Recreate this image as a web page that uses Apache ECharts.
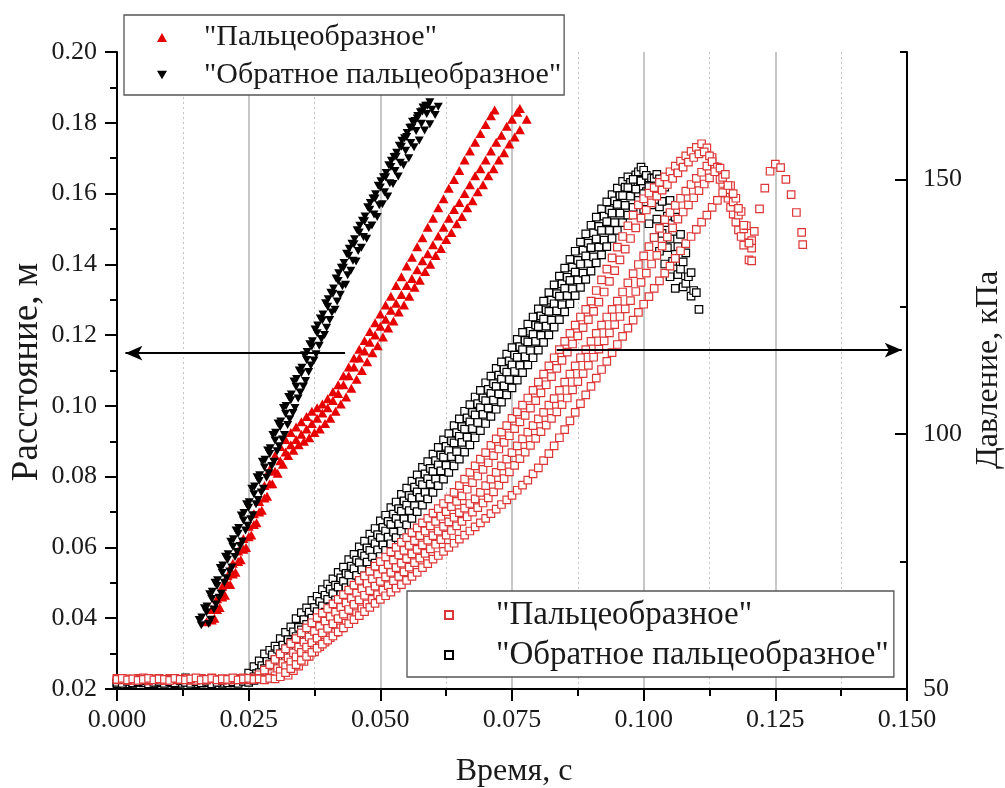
<!DOCTYPE html>
<html><head><meta charset="utf-8">
<script src="https://cdn.jsdelivr.net/npm/echarts@6/dist/echarts.min.js"></script>
<style>html,body{margin:0;padding:0;background:#fff}#c{width:1005px;height:788px}</style>
</head><body><div id="c"></div>
<script>
const FONT = '"Liberation Serif", "Times New Roman", serif';

// axis settings (values)
const xRange = [0, 0.15], xStep = 0.025;
const yLeftRange = [0.02, 0.20], yLeftStep = 0.02;
const yRightRange = [50, 175];
const yRightLabels = [50, 100, 150];
const yRightMinor = [75, 125, 175];

const legendText = {
  triF: '"Пальцеобразное"',
  triR: '"Обратное пальцеобразное"',
  sqF: '"Пальцеобразное"',
  sqR: '"Обратное пальцеобразное"'
};
const axisTitles = { x: 'Время, с', yl: 'Расстояние, м', yr: 'Давление, кПа' };

// arrows: [fromX, toX, y]
const arrowLeft = [0.0433, 0.0016, 0.1149];
const arrowRight = [0.0835, 0.1490, 116.5];

// ---- distance, "Пальцеобразное" (red triangles), 3 runs ----
const triFinger1 = [[0.0170,0.0390],[0.0180,0.0425],[0.0190,0.0455],[0.0200,0.0490],[0.0210,0.0520],[0.0220,0.0555],[0.0230,0.0590],[0.0240,0.0625],[0.0250,0.0660],[0.0260,0.0695],[0.0270,0.0730],[0.0280,0.0775],[0.0290,0.0820],[0.0300,0.0860],[0.0310,0.0885],[0.0320,0.0905],[0.0330,0.0925],[0.0340,0.0940],[0.0350,0.0955],[0.0360,0.0970],[0.0370,0.0985],[0.0380,0.0995],[0.0390,0.1005],[0.0400,0.1020],[0.0410,0.1040],[0.0420,0.1060],[0.0430,0.1085],[0.0440,0.1110],[0.0450,0.1135],[0.0460,0.1160],[0.0470,0.1185],[0.0480,0.1210],[0.0490,0.1235],[0.0500,0.1260],[0.0510,0.1285],[0.0520,0.1310],[0.0530,0.1340],[0.0540,0.1365],[0.0550,0.1395],[0.0560,0.1420],[0.0570,0.1450],[0.0580,0.1475],[0.0590,0.1505],[0.0600,0.1530],[0.0610,0.1560],[0.0620,0.1585],[0.0630,0.1615],[0.0640,0.1640],[0.0650,0.1665],[0.0660,0.1695],[0.0670,0.1720],[0.0680,0.1745],[0.0690,0.1770],[0.0700,0.1795],[0.0710,0.1820],[0.0717,0.1836]];
const triFinger2 = [[0.0180,0.0395],[0.0190,0.0425],[0.0200,0.0460],[0.0210,0.0495],[0.0220,0.0525],[0.0230,0.0560],[0.0240,0.0595],[0.0250,0.0630],[0.0260,0.0665],[0.0270,0.0700],[0.0280,0.0740],[0.0290,0.0780],[0.0300,0.0815],[0.0310,0.0845],[0.0320,0.0870],[0.0330,0.0890],[0.0340,0.0905],[0.0350,0.0920],[0.0360,0.0935],[0.0370,0.0950],[0.0380,0.0965],[0.0390,0.0980],[0.0400,0.0995],[0.0410,0.1015],[0.0420,0.1035],[0.0430,0.1060],[0.0440,0.1085],[0.0450,0.1110],[0.0460,0.1135],[0.0470,0.1155],[0.0480,0.1180],[0.0490,0.1200],[0.0500,0.1225],[0.0510,0.1245],[0.0520,0.1270],[0.0530,0.1290],[0.0540,0.1315],[0.0550,0.1340],[0.0560,0.1360],[0.0570,0.1385],[0.0580,0.1410],[0.0590,0.1430],[0.0600,0.1455],[0.0610,0.1480],[0.0620,0.1505],[0.0630,0.1530],[0.0640,0.1555],[0.0650,0.1575],[0.0660,0.1600],[0.0670,0.1625],[0.0680,0.1650],[0.0690,0.1670],[0.0700,0.1695],[0.0710,0.1720],[0.0720,0.1745],[0.0730,0.1765],[0.0740,0.1790],[0.0750,0.1810],[0.0760,0.1830],[0.0765,0.1840]];
const triFinger3 = [[0.0185,0.0400],[0.0195,0.0430],[0.0205,0.0465],[0.0215,0.0495],[0.0225,0.0530],[0.0235,0.0565],[0.0245,0.0600],[0.0255,0.0635],[0.0265,0.0670],[0.0275,0.0705],[0.0285,0.0745],[0.0295,0.0780],[0.0305,0.0810],[0.0315,0.0835],[0.0325,0.0860],[0.0335,0.0875],[0.0345,0.0890],[0.0355,0.0900],[0.0365,0.0910],[0.0375,0.0925],[0.0385,0.0935],[0.0395,0.0950],[0.0405,0.0965],[0.0415,0.0985],[0.0425,0.1005],[0.0435,0.1025],[0.0445,0.1050],[0.0455,0.1075],[0.0465,0.1100],[0.0475,0.1125],[0.0485,0.1150],[0.0495,0.1170],[0.0505,0.1195],[0.0515,0.1220],[0.0525,0.1240],[0.0535,0.1265],[0.0545,0.1285],[0.0555,0.1310],[0.0565,0.1335],[0.0575,0.1355],[0.0585,0.1380],[0.0595,0.1400],[0.0605,0.1425],[0.0615,0.1445],[0.0625,0.1470],[0.0635,0.1490],[0.0645,0.1515],[0.0655,0.1535],[0.0665,0.1560],[0.0675,0.1580],[0.0685,0.1605],[0.0695,0.1625],[0.0705,0.1650],[0.0715,0.1670],[0.0725,0.1695],[0.0735,0.1715],[0.0745,0.1740],[0.0755,0.1760],[0.0765,0.1780],[0.0778,0.1810]];

// ---- distance, "Обратное пальцеобразное" (black triangles), 5 runs ----
const triRev1 = [[0.016,0.0380],[0.017,0.0417],[0.018,0.0454],[0.019,0.0491],[0.020,0.0528],[0.021,0.0565],[0.022,0.0602],[0.023,0.0639],[0.024,0.0676],[0.025,0.0712],[0.026,0.0750],[0.027,0.0788],[0.028,0.0826],[0.029,0.0864],[0.030,0.0902],[0.031,0.0940],[0.032,0.0978],[0.033,0.1016],[0.034,0.1054],[0.035,0.1092],[0.036,0.1130],[0.037,0.1168],[0.038,0.1205],[0.039,0.1242],[0.040,0.1280],[0.041,0.1317],[0.042,0.1353],[0.043,0.1390],[0.044,0.1424],[0.045,0.1457],[0.046,0.1490],[0.047,0.1522],[0.048,0.1554],[0.049,0.1586],[0.050,0.1617],[0.051,0.1646],[0.052,0.1675],[0.053,0.1704],[0.054,0.1732],[0.055,0.1760],[0.056,0.1787],[0.057,0.1812],[0.058,0.1832],[0.059,0.1848]];
const triRev2 = [[0.0174,0.0384],[0.0184,0.0425],[0.0194,0.0458],[0.0204,0.0500],[0.0214,0.0532],[0.0224,0.0573],[0.0234,0.0604],[0.0244,0.0648],[0.0254,0.0680],[0.0264,0.0722],[0.0274,0.0755],[0.0284,0.0797],[0.0294,0.0830],[0.0304,0.0872],[0.0314,0.0905],[0.0324,0.0946],[0.0334,0.0980],[0.0344,0.1021],[0.0354,0.1055],[0.0364,0.1096],[0.0374,0.1128],[0.0384,0.1170],[0.0394,0.1200],[0.0404,0.1243],[0.0414,0.1272],[0.0424,0.1314],[0.0434,0.1342],[0.0444,0.1382],[0.0454,0.1408],[0.0464,0.1447],[0.0474,0.1472],[0.0484,0.1510],[0.0494,0.1534],[0.0504,0.1570],[0.0514,0.1592],[0.0524,0.1627],[0.0534,0.1648],[0.0544,0.1680],[0.0554,0.1700],[0.0564,0.1731],[0.0574,0.1750],[0.0584,0.1778],[0.0594,0.1796],[0.0604,0.1822],[0.0610,0.1845]];
const triRev3 = [[0.0156,0.0395],[0.0166,0.0428],[0.0176,0.0468],[0.0186,0.0500],[0.0196,0.0542],[0.0206,0.0574],[0.0216,0.0616],[0.0226,0.0648],[0.0236,0.0690],[0.0246,0.0722],[0.0256,0.0766],[0.0266,0.0798],[0.0276,0.0842],[0.0286,0.0874],[0.0296,0.0918],[0.0306,0.0950],[0.0316,0.0994],[0.0326,0.1025],[0.0336,0.1069],[0.0346,0.1100],[0.0356,0.1143],[0.0366,0.1174],[0.0376,0.1216],[0.0386,0.1247],[0.0396,0.1290],[0.0406,0.1320],[0.0416,0.1360],[0.0426,0.1390],[0.0436,0.1430],[0.0446,0.1458],[0.0456,0.1496],[0.0466,0.1523],[0.0476,0.1561],[0.0486,0.1586],[0.0496,0.1622],[0.0506,0.1646],[0.0516,0.1680],[0.0526,0.1703],[0.0536,0.1735],[0.0546,0.1756],[0.0556,0.1786],[0.0566,0.1805],[0.0576,0.1830],[0.0586,0.1848],[0.0594,0.1858]];
const triRev4 = [[0.0161,0.0402],[0.0171,0.0433],[0.0181,0.0475],[0.0191,0.0507],[0.0201,0.0549],[0.0211,0.0581],[0.0221,0.0623],[0.0231,0.0655],[0.0241,0.0697],[0.0251,0.0728],[0.0261,0.0772],[0.0271,0.0804],[0.0281,0.0848],[0.0291,0.0880],[0.0301,0.0924],[0.0311,0.0956],[0.0321,0.1000],[0.0331,0.1032],[0.0341,0.1076],[0.0351,0.1108],[0.0361,0.1152],[0.0371,0.1183],[0.0381,0.1227],[0.0391,0.1258],[0.0401,0.1301],[0.0411,0.1332],[0.0421,0.1375],[0.0431,0.1404],[0.0441,0.1444],[0.0451,0.1471],[0.0461,0.1509],[0.0471,0.1535],[0.0481,0.1573],[0.0491,0.1598],[0.0501,0.1635],[0.0511,0.1658],[0.0521,0.1693],[0.0531,0.1715],[0.0541,0.1749],[0.0551,0.1771],[0.0561,0.1803],[0.0571,0.1819],[0.0581,0.1843]];
const triRev5 = [[0.0178,0.0396],[0.0188,0.0439],[0.0198,0.0469],[0.0208,0.0513],[0.0218,0.0543],[0.0228,0.0587],[0.0238,0.0617],[0.0248,0.0661],[0.0258,0.0691],[0.0268,0.0734],[0.0278,0.0766],[0.0288,0.0810],[0.0298,0.0842],[0.0308,0.0886],[0.0318,0.0918],[0.0328,0.0962],[0.0338,0.0994],[0.0348,0.1038],[0.0358,0.1070],[0.0368,0.1114],[0.0378,0.1146],[0.0388,0.1189],[0.0398,0.1221],[0.0408,0.1264],[0.0418,0.1295],[0.0428,0.1338],[0.0438,0.1369],[0.0448,0.1410],[0.0458,0.1438],[0.0468,0.1477],[0.0478,0.1503],[0.0488,0.1541],[0.0498,0.1567],[0.0508,0.1604],[0.0518,0.1629],[0.0528,0.1664],[0.0538,0.1687],[0.0548,0.1721],[0.0558,0.1743],[0.0568,0.1777],[0.0578,0.1797],[0.0588,0.1825],[0.0598,0.1837]];

// ---- pressure, "Обратное пальцеобразное" (black squares), 5 runs ----
const sqRev1 = [[0.000,51.2],[0.001,51.5],[0.002,51.0],[0.003,51.4],[0.004,51.3],[0.005,51.6],[0.006,51.1],[0.007,51.4],[0.008,51.2],[0.009,51.5],[0.010,51.3],[0.011,51.0],[0.012,51.4],[0.013,52.2],[0.014,51.3],[0.015,51.5],[0.016,51.2],[0.017,51.4],[0.018,51.1],[0.019,51.5],[0.020,51.3],[0.021,51.6],[0.022,51.4],[0.023,51.8],[0.024,52.0],[0.025,53.1],[0.026,54.4],[0.027,55.5],[0.028,56.9],[0.029,57.6],[0.030,58.4],[0.031,59.9],[0.032,61.1],[0.033,62.2],[0.034,63.8],[0.035,65.0],[0.036,65.9],[0.037,67.4],[0.038,68.2],[0.039,69.5],[0.040,70.6],[0.041,71.6],[0.042,72.9],[0.043,73.9],[0.044,75.4],[0.045,76.4],[0.046,77.9],[0.047,79.0],[0.048,80.4],[0.049,81.5],[0.050,83.0],[0.051,84.1],[0.052,85.6],[0.053,86.7],[0.054,88.2],[0.055,89.4],[0.056,90.8],[0.057,92.0],[0.058,93.5],[0.059,94.6],[0.060,96.1],[0.061,97.4],[0.062,98.9],[0.063,100.1],[0.064,101.7],[0.065,103.0],[0.066,104.5],[0.067,105.8],[0.068,107.3],[0.069,108.6],[0.070,110.1],[0.071,111.4],[0.072,112.9],[0.073,114.2],[0.074,115.7],[0.075,117.0],[0.076,118.6],[0.077,120.0],[0.078,121.6],[0.079,123.0],[0.080,124.6],[0.081,126.1],[0.082,127.8],[0.083,129.3],[0.084,131.0],[0.085,132.6],[0.086,134.3],[0.087,135.9],[0.088,137.7],[0.089,139.3],[0.090,141.0],[0.091,142.6],[0.092,144.2],[0.093,145.6],[0.094,147.0],[0.095,148.3],[0.096,149.6],[0.097,150.5],[0.098,149.2],[0.099,146.8],[0.100,144.1],[0.101,141.3],[0.102,138.6],[0.103,135.9],[0.104,133.4],[0.105,130.9],[0.106,128.6]];
const sqRev2 = [[0.000,51.0],[0.001,51.3],[0.002,51.6],[0.003,51.1],[0.004,51.4],[0.005,51.2],[0.006,51.5],[0.007,51.0],[0.008,51.3],[0.009,51.6],[0.010,51.2],[0.011,51.4],[0.012,51.1],[0.013,51.5],[0.014,51.3],[0.015,51.0],[0.016,51.4],[0.017,51.2],[0.018,51.6],[0.019,51.3],[0.020,51.1],[0.021,51.5],[0.022,51.2],[0.023,51.4],[0.024,51.6],[0.025,51.9],[0.026,52.4],[0.027,53.2],[0.028,54.0],[0.029,54.9],[0.030,55.7],[0.031,56.9],[0.032,57.9],[0.033,59.2],[0.034,60.3],[0.035,61.6],[0.036,62.7],[0.037,63.9],[0.038,65.2],[0.039,66.3],[0.040,67.6],[0.041,68.7],[0.042,70.0],[0.043,71.1],[0.044,72.4],[0.045,73.6],[0.046,74.8],[0.047,76.1],[0.048,77.2],[0.049,78.5],[0.050,79.7],[0.051,81.0],[0.052,82.3],[0.053,83.5],[0.054,84.9],[0.055,86.1],[0.056,87.5],[0.057,88.7],[0.058,90.1],[0.059,91.3],[0.060,92.7],[0.061,94.0],[0.062,95.5],[0.063,96.8],[0.064,98.3],[0.065,99.6],[0.066,101.0],[0.067,102.4],[0.068,103.8],[0.069,105.2],[0.070,106.6],[0.071,108.0],[0.072,109.4],[0.073,110.8],[0.074,112.2],[0.075,113.6],[0.076,115.1],[0.077,116.6],[0.078,118.1],[0.079,119.6],[0.080,121.1],[0.081,122.6],[0.082,124.1],[0.083,125.6],[0.084,127.1],[0.085,128.6],[0.086,130.2],[0.087,131.8],[0.088,133.4],[0.089,135.0],[0.090,136.6],[0.091,138.3],[0.092,140.0],[0.093,141.7],[0.094,143.4],[0.095,145.1],[0.096,146.8],[0.097,148.4],[0.098,150.0],[0.099,151.5],[0.0995,152.4],[0.100,151.8],[0.101,150.3],[0.102,147.6],[0.103,144.6],[0.104,141.5],[0.105,138.4],[0.106,135.3],[0.107,132.4],[0.108,129.6],[0.109,127.1]];
const sqRev3 = [[0.000,51.3],[0.001,51.1],[0.002,51.5],[0.003,51.2],[0.004,51.4],[0.005,51.6],[0.006,51.0],[0.007,51.3],[0.008,51.5],[0.009,51.1],[0.010,51.4],[0.011,51.2],[0.012,51.6],[0.013,51.3],[0.014,51.1],[0.015,51.4],[0.016,51.2],[0.017,51.5],[0.018,51.0],[0.019,51.3],[0.020,51.6],[0.021,51.2],[0.022,51.4],[0.023,51.1],[0.024,51.5],[0.025,51.3],[0.026,51.7],[0.027,52.0],[0.028,52.3],[0.029,52.9],[0.030,53.6],[0.031,54.5],[0.032,55.5],[0.033,56.4],[0.034,57.5],[0.035,58.5],[0.036,59.6],[0.037,60.6],[0.038,61.8],[0.039,62.8],[0.040,64.0],[0.041,65.1],[0.042,66.3],[0.043,67.4],[0.044,68.7],[0.045,69.8],[0.046,71.1],[0.047,72.2],[0.048,73.5],[0.049,74.7],[0.050,76.0],[0.051,77.2],[0.052,78.5],[0.053,79.7],[0.054,81.0],[0.055,82.2],[0.056,83.5],[0.057,84.8],[0.058,86.1],[0.059,87.3],[0.060,88.6],[0.061,89.9],[0.062,91.2],[0.063,92.5],[0.064,93.8],[0.065,95.1],[0.066,96.5],[0.067,97.9],[0.068,99.3],[0.069,100.7],[0.070,102.1],[0.071,103.5],[0.072,104.9],[0.073,106.3],[0.074,107.7],[0.075,109.1],[0.076,110.6],[0.077,112.1],[0.078,113.6],[0.079,115.0],[0.080,116.5],[0.081,118.0],[0.082,119.5],[0.083,121.0],[0.084,122.5],[0.085,124.0],[0.086,125.6],[0.087,127.2],[0.088,128.8],[0.089,130.4],[0.090,132.0],[0.091,133.6],[0.092,135.2],[0.093,136.8],[0.094,138.4],[0.095,140.0],[0.096,141.5],[0.097,143.0],[0.098,144.5],[0.099,145.9],[0.100,147.2],[0.101,148.6],[0.102,150.2],[0.1025,151.0],[0.103,150.1],[0.104,148.5],[0.105,145.9],[0.106,142.6],[0.107,139.2],[0.108,135.6],[0.109,131.7],[0.110,127.8],[0.1105,124.5]];
const sqRev4 = [[0.0265,53.0],[0.0275,54.6],[0.0285,55.4],[0.0295,56.7],[0.0305,57.8],[0.0315,58.6],[0.0325,59.7],[0.0335,61.2],[0.0345,62.1],[0.0355,63.6],[0.0365,65.1],[0.0375,66.0],[0.0385,67.2],[0.0395,68.4],[0.0405,69.6],[0.0415,70.4],[0.0425,71.8],[0.0435,72.7],[0.0445,74.1],[0.0455,75.3],[0.0465,76.6],[0.0475,77.7],[0.0485,79.2],[0.0495,80.3],[0.0505,81.7],[0.0515,82.9],[0.0525,84.3],[0.0535,85.4],[0.0545,86.9],[0.0555,88.0],[0.0565,89.6],[0.0575,90.7],[0.0585,92.2],[0.0595,93.3],[0.0605,94.8],[0.0615,95.9],[0.0625,97.6],[0.0635,98.7],[0.0645,100.3],[0.0655,101.5],[0.0665,103.2],[0.0675,104.3],[0.0685,106.0],[0.0695,107.1],[0.0705,108.8],[0.0715,109.9],[0.0725,111.6],[0.0735,112.7],[0.0745,114.4],[0.0755,115.5],[0.0765,117.2],[0.0775,118.4],[0.0785,120.2],[0.0795,121.4],[0.0805,123.2],[0.0815,124.4],[0.0825,126.3],[0.0835,127.6],[0.0845,129.5],[0.0855,130.8],[0.0865,132.8],[0.0875,134.1],[0.0885,136.1],[0.0895,137.5],[0.0905,139.5],[0.0915,140.8],[0.0925,142.8],[0.0935,144.0],[0.0945,145.8],[0.0955,146.8],[0.0965,148.5],[0.0975,149.4],[0.0985,150.9],[0.0995,149.8],[0.1005,147.6],[0.1015,145.0],[0.1025,142.2],[0.1035,139.4],[0.1045,136.6],[0.1055,133.9],[0.1065,131.3],[0.1075,128.9]];
const sqRev5 = [[0.0275,52.6],[0.0285,53.3],[0.0295,54.1],[0.0305,54.8],[0.0315,55.9],[0.0325,56.8],[0.0335,58.0],[0.0345,59.0],[0.0355,60.4],[0.0365,61.4],[0.0375,62.8],[0.0385,63.8],[0.0395,65.1],[0.0405,66.1],[0.0415,67.5],[0.0425,68.5],[0.0435,69.9],[0.0445,70.9],[0.0455,72.3],[0.0465,73.4],[0.0475,74.9],[0.0485,75.9],[0.0495,77.3],[0.0505,78.3],[0.0515,79.8],[0.0525,80.8],[0.0535,82.4],[0.0545,83.4],[0.0555,85.0],[0.0565,86.0],[0.0575,87.6],[0.0585,88.6],[0.0595,90.2],[0.0605,91.2],[0.0615,92.8],[0.0625,93.9],[0.0635,95.6],[0.0645,96.6],[0.0655,98.4],[0.0665,99.4],[0.0675,101.1],[0.0685,102.3],[0.0695,103.9],[0.0705,105.1],[0.0715,106.7],[0.0725,107.9],[0.0735,109.5],[0.0745,110.7],[0.0755,112.3],[0.0765,113.5],[0.0775,115.2],[0.0785,116.4],[0.0795,118.2],[0.0805,119.4],[0.0815,121.2],[0.0825,122.4],[0.0835,124.2],[0.0845,125.4],[0.0855,127.2],[0.0865,128.5],[0.0875,130.3],[0.0885,131.6],[0.0895,133.5],[0.0905,134.8],[0.0915,136.7],[0.0925,138.1],[0.0935,140.0],[0.0945,141.5],[0.0955,143.4],[0.0965,144.9],[0.0975,146.7],[0.0985,148.1],[0.0995,149.7],[0.1005,150.8],[0.1015,150.3],[0.1025,148.4],[0.1035,145.7],[0.1045,142.8],[0.1055,139.8],[0.1065,136.8],[0.1075,133.8],[0.1085,130.9],[0.1095,128.2]];

// ---- pressure, "Пальцеобразное" (red squares), 5 runs ----
const sqFinger1 = [[0.000,51.8],[0.001,52.0],[0.002,51.7],[0.003,51.9],[0.004,52.1],[0.005,51.8],[0.006,51.6],[0.007,52.0],[0.008,51.9],[0.009,51.7],[0.010,52.1],[0.011,51.8],[0.012,51.9],[0.013,52.0],[0.014,51.7],[0.015,51.9],[0.016,52.1],[0.017,51.8],[0.018,52.0],[0.019,51.9],[0.020,51.7],[0.021,52.0],[0.022,51.8],[0.023,52.1],[0.024,51.9],[0.025,52.0],[0.026,52.2],[0.027,52.8],[0.028,53.7],[0.029,54.8],[0.030,55.8],[0.031,56.9],[0.032,57.9],[0.033,58.9],[0.034,59.9],[0.035,61.0],[0.036,62.0],[0.037,63.0],[0.038,64.0],[0.039,64.9],[0.040,65.8],[0.041,66.7],[0.042,67.6],[0.043,68.5],[0.044,69.4],[0.045,70.4],[0.046,71.3],[0.047,72.2],[0.048,73.1],[0.049,74.1],[0.050,75.0],[0.051,75.9],[0.052,76.9],[0.053,77.8],[0.054,78.8],[0.055,79.7],[0.056,80.7],[0.057,81.6],[0.058,82.6],[0.059,83.5],[0.060,84.5],[0.061,85.4],[0.062,86.4],[0.063,87.3],[0.064,88.6],[0.065,89.9],[0.066,91.2],[0.067,92.5],[0.068,93.8],[0.069,95.1],[0.070,96.4],[0.071,97.8],[0.072,99.1],[0.073,100.4],[0.074,101.7],[0.075,103.1],[0.076,104.4],[0.077,105.7],[0.078,107.1],[0.079,108.6],[0.080,110.2],[0.081,111.8],[0.082,113.4],[0.083,115.0],[0.084,116.6],[0.085,118.2],[0.086,119.8],[0.087,121.4],[0.088,123.0],[0.089,124.5],[0.090,126.1],[0.091,128.2],[0.092,130.3],[0.093,132.4],[0.094,134.6],[0.095,136.7],[0.096,138.8],[0.097,140.9],[0.098,143.0],[0.099,145.0],[0.100,146.2],[0.101,147.3],[0.102,148.4],[0.103,149.4],[0.104,150.5],[0.105,151.5],[0.106,152.6],[0.107,153.6],[0.108,154.6],[0.109,155.5],[0.110,156.3],[0.111,157.0],[0.112,156.2],[0.113,154.3],[0.114,151.8],[0.115,149.2],[0.116,146.3],[0.117,143.2],[0.118,140.1],[0.119,137.1],[0.120,134.2]];
const sqFinger2 = [[0.000,52.1],[0.001,51.8],[0.002,52.0],[0.003,51.7],[0.004,51.9],[0.005,52.2],[0.006,51.8],[0.007,51.9],[0.008,52.1],[0.009,51.7],[0.010,51.9],[0.011,52.0],[0.012,51.8],[0.013,52.1],[0.014,51.9],[0.015,51.7],[0.016,52.0],[0.017,51.8],[0.018,52.2],[0.019,51.9],[0.020,52.0],[0.021,51.8],[0.022,52.1],[0.023,51.9],[0.024,52.2],[0.025,51.8],[0.026,52.0],[0.027,52.1],[0.028,51.9],[0.029,52.2],[0.030,52.6],[0.031,53.5],[0.032,54.4],[0.033,55.3],[0.034,56.3],[0.035,57.2],[0.036,58.2],[0.037,59.1],[0.038,60.0],[0.039,61.0],[0.040,61.9],[0.041,62.8],[0.042,63.8],[0.043,64.7],[0.044,65.6],[0.045,66.6],[0.046,67.5],[0.047,68.4],[0.048,69.3],[0.049,70.2],[0.050,71.1],[0.051,72.0],[0.052,72.9],[0.053,73.8],[0.054,74.7],[0.055,75.6],[0.056,76.5],[0.057,77.4],[0.058,78.3],[0.059,79.2],[0.060,80.1],[0.061,81.0],[0.062,81.9],[0.063,82.8],[0.064,83.7],[0.065,84.6],[0.066,85.5],[0.067,86.4],[0.068,87.3],[0.069,88.6],[0.070,89.9],[0.071,91.2],[0.072,92.5],[0.073,93.8],[0.074,95.1],[0.075,96.4],[0.076,97.7],[0.077,99.1],[0.078,100.4],[0.079,101.7],[0.080,103.0],[0.081,104.3],[0.082,105.7],[0.083,107.0],[0.084,108.6],[0.085,110.2],[0.086,111.8],[0.087,113.4],[0.088,115.0],[0.089,116.6],[0.090,118.2],[0.091,119.8],[0.092,121.4],[0.093,123.0],[0.094,124.5],[0.095,126.1],[0.096,127.9],[0.097,129.7],[0.098,131.5],[0.099,133.3],[0.100,135.0],[0.101,136.8],[0.102,138.6],[0.103,140.4],[0.104,142.1],[0.105,143.5],[0.106,144.9],[0.107,146.3],[0.108,147.7],[0.109,149.0],[0.110,150.2],[0.111,151.4],[0.112,152.6],[0.113,153.5],[0.114,152.4],[0.115,150.4],[0.116,148.0],[0.117,145.6],[0.118,143.0],[0.119,140.3],[0.120,137.6],[0.1205,136.5],[0.121,139.8],[0.122,144.2],[0.123,148.3],[0.124,151.6],[0.125,153.0],[0.126,152.3],[0.127,150.0],[0.128,147.0],[0.129,143.5],[0.130,139.6],[0.1302,137.2]];
const sqFinger3 = [[0.000,51.9],[0.001,52.1],[0.002,51.8],[0.003,52.0],[0.004,51.7],[0.005,51.9],[0.006,52.1],[0.007,51.8],[0.008,52.0],[0.009,51.9],[0.010,51.7],[0.011,52.1],[0.012,51.9],[0.013,51.8],[0.014,52.0],[0.015,52.2],[0.016,51.8],[0.017,51.9],[0.018,52.1],[0.019,51.8],[0.020,52.0],[0.021,51.9],[0.022,52.2],[0.023,51.8],[0.024,52.0],[0.025,52.1],[0.026,51.9],[0.027,52.0],[0.028,51.8],[0.029,52.1],[0.030,52.0],[0.031,52.4],[0.032,53.2],[0.033,54.0],[0.034,54.8],[0.035,55.6],[0.036,56.4],[0.037,57.2],[0.038,58.0],[0.039,58.8],[0.040,59.6],[0.041,60.4],[0.042,61.2],[0.043,62.0],[0.044,62.8],[0.045,63.6],[0.046,64.4],[0.047,65.2],[0.048,66.0],[0.049,66.8],[0.050,67.6],[0.051,68.3],[0.052,69.0],[0.053,69.8],[0.054,70.5],[0.055,71.3],[0.056,72.1],[0.057,72.9],[0.058,73.8],[0.059,74.6],[0.060,75.5],[0.061,76.2],[0.062,77.0],[0.063,77.8],[0.064,78.6],[0.065,79.4],[0.066,80.2],[0.067,81.0],[0.068,81.8],[0.069,82.6],[0.070,83.5],[0.071,84.4],[0.072,85.3],[0.073,86.2],[0.074,87.1],[0.075,88.0],[0.076,89.0],[0.077,90.0],[0.078,91.0],[0.079,92.2],[0.080,93.4],[0.081,94.8],[0.082,96.2],[0.083,97.7],[0.084,99.3],[0.085,100.9],[0.086,102.6],[0.087,104.3],[0.088,106.0],[0.089,107.7],[0.090,109.4],[0.091,111.0],[0.092,112.7],[0.093,114.3],[0.094,116.0],[0.095,117.6],[0.096,119.2],[0.097,120.8],[0.098,122.4],[0.099,123.9],[0.100,125.5],[0.101,127.0],[0.102,128.6],[0.103,130.1],[0.104,131.6],[0.105,133.0],[0.106,134.5],[0.107,136.0],[0.108,137.4],[0.109,138.8],[0.110,140.2],[0.111,141.6],[0.112,143.0],[0.113,144.5],[0.114,145.9],[0.115,147.4],[0.116,148.8],[0.117,147.2],[0.118,144.3],[0.119,141.0],[0.120,137.5],[0.1205,134.0]];
const sqFinger4 = [[0.0295,53.0],[0.0305,54.0],[0.0315,55.0],[0.0325,56.1],[0.0335,57.1],[0.0345,58.2],[0.0355,59.2],[0.0365,60.2],[0.0375,61.3],[0.0385,62.3],[0.0395,63.3],[0.0405,64.2],[0.0415,65.1],[0.0425,66.0],[0.0435,66.9],[0.0445,67.8],[0.0455,68.8],[0.0465,69.7],[0.0475,70.7],[0.0485,71.6],[0.0495,72.5],[0.0505,73.5],[0.0515,74.4],[0.0525,75.3],[0.0535,76.3],[0.0545,77.2],[0.0555,78.2],[0.0565,79.1],[0.0575,80.1],[0.0585,81.0],[0.0595,82.0],[0.0605,82.9],[0.0615,83.9],[0.0625,84.8],[0.0635,85.8],[0.0645,86.8],[0.0655,87.9],[0.0665,89.2],[0.0675,90.5],[0.0685,91.8],[0.0695,93.1],[0.0705,94.4],[0.0715,95.8],[0.0725,97.1],[0.0735,98.4],[0.0745,99.7],[0.0755,101.1],[0.0765,102.4],[0.0775,103.7],[0.0785,105.1],[0.0795,106.6],[0.0805,108.1],[0.0815,109.7],[0.0825,111.3],[0.0835,112.9],[0.0845,114.5],[0.0855,116.1],[0.0865,117.7],[0.0875,119.3],[0.0885,120.9],[0.0895,122.5],[0.0905,124.1],[0.0915,125.9],[0.0925,127.9],[0.0935,130.0],[0.0945,132.1],[0.0955,134.2],[0.0965,136.3],[0.0975,138.4],[0.0985,140.5],[0.0995,142.4],[0.1005,144.0],[0.1015,145.4],[0.1025,146.7],[0.1035,147.9],[0.1045,149.0],[0.1055,150.2],[0.1065,151.3],[0.1075,152.4],[0.1085,153.4],[0.1095,154.3],[0.1105,155.0],[0.1115,155.4],[0.1125,154.6],[0.1135,152.5],[0.1145,150.0],[0.1155,147.3],[0.1165,144.5],[0.1175,141.6],[0.1185,138.8]];
const sqFinger5 = [[0.0325,52.7],[0.0335,53.6],[0.0345,54.5],[0.0355,55.4],[0.0365,56.4],[0.0375,57.3],[0.0385,58.3],[0.0395,59.2],[0.0405,60.1],[0.0415,61.1],[0.0425,62.0],[0.0435,62.9],[0.0445,63.9],[0.0455,64.8],[0.0465,65.7],[0.0475,66.7],[0.0485,67.6],[0.0495,68.5],[0.0505,69.4],[0.0515,70.3],[0.0525,71.2],[0.0535,72.1],[0.0545,73.0],[0.0555,73.9],[0.0565,74.8],[0.0575,75.7],[0.0585,76.6],[0.0595,77.5],[0.0605,78.4],[0.0615,79.3],[0.0625,80.2],[0.0635,81.1],[0.0645,82.0],[0.0655,82.9],[0.0665,83.8],[0.0675,84.7],[0.0685,85.6],[0.0695,86.5],[0.0705,87.5],[0.0715,88.7],[0.0725,90.0],[0.0735,91.3],[0.0745,92.6],[0.0755,93.9],[0.0765,95.2],[0.0775,96.5],[0.0785,97.8],[0.0795,99.2],[0.0805,100.5],[0.0815,101.8],[0.0825,103.1],[0.0835,104.4],[0.0845,105.8],[0.0855,107.1],[0.0865,108.7],[0.0875,110.3],[0.0885,111.9],[0.0895,113.5],[0.0905,115.1],[0.0915,116.7],[0.0925,118.3],[0.0935,119.9],[0.0945,121.5],[0.0955,123.1],[0.0965,124.6],[0.0975,126.2],[0.0985,128.0],[0.0995,129.8],[0.1005,131.6],[0.1015,133.4],[0.1025,135.1],[0.1035,136.9],[0.1045,138.7],[0.1055,140.5],[0.1065,142.2],[0.1075,143.6],[0.1085,145.0],[0.1095,146.4],[0.1105,147.8],[0.1115,149.1],[0.1125,150.3],[0.1135,151.5],[0.1145,152.2],[0.1155,151.0],[0.1165,148.8],[0.1175,146.3],[0.1185,143.7],[0.1195,140.9],[0.1205,138.0]];

const RED_TRI = '#e60000';
const BLACK = '#000000';
const RED_SQ = '#dd3636';
const DOWN_TRI = 'path://M0,0L10,0L5,8.66Z';

function triSeries(name, data, color, symbol, size) {
  return { type: 'scatter', name, data, xAxisIndex: 0, yAxisIndex: 0,
    symbol, symbolSize: size, itemStyle: { color, opacity: 1 }, z: 4 };
}
function sqSeries(name, data, color, z) {
  return { type: 'scatter', name, data, xAxisIndex: 0, yAxisIndex: 1,
    symbol: 'rect', symbolSize: 7.5,
    itemStyle: { color: '#ffffff', borderColor: color, borderWidth: 1.2, opacity: 1 }, z };
}

const series = [
  sqSeries('sqR', sqRev1, BLACK, 2), sqSeries('sqR', sqRev4, BLACK, 2), sqSeries('sqR', sqRev2, BLACK, 2),
  sqSeries('sqR', sqRev5, BLACK, 2), sqSeries('sqR', sqRev3, BLACK, 2),
  sqSeries('sqF', sqFinger1, RED_SQ, 3), sqSeries('sqF', sqFinger4, RED_SQ, 3), sqSeries('sqF', sqFinger2, RED_SQ, 3),
  sqSeries('sqF', sqFinger5, RED_SQ, 3), sqSeries('sqF', sqFinger3, RED_SQ, 3),
  triSeries('triF', triFinger1, RED_TRI, 'triangle', [10, 9]), triSeries('triF', triFinger2, RED_TRI, 'triangle', [10, 9]), triSeries('triF', triFinger3, RED_TRI, 'triangle', [10, 9]),
  triSeries('triR', triRev3, BLACK, DOWN_TRI, [9, 8]), triSeries('triR', triRev4, BLACK, DOWN_TRI, [9, 8]), triSeries('triR', triRev1, BLACK, DOWN_TRI, [9, 8]),
  triSeries('triR', triRev2, BLACK, DOWN_TRI, [9, 8]), triSeries('triR', triRev5, BLACK, DOWN_TRI, [9, 8])
];

// arrows as markLines bound to the axes
series.push({ type: 'scatter', name: 'arrowL', data: [], xAxisIndex: 0, yAxisIndex: 0, silent: true,
  markLine: { silent: true, symbol: ['none', 'arrow'], symbolSize: [11, 17], label: { show: false },
    lineStyle: { color: '#000', width: 2, type: 'solid' }, z: 10,
    data: [[{ coord: [arrowLeft[0], arrowLeft[2]] }, { coord: [arrowLeft[1], arrowLeft[2]] }]] } });
series.push({ type: 'scatter', name: 'arrowR', data: [], xAxisIndex: 0, yAxisIndex: 1, silent: true,
  markLine: { silent: true, symbol: ['none', 'arrow'], symbolSize: [11, 17], label: { show: false },
    lineStyle: { color: '#000', width: 2, type: 'solid' }, z: 10,
    data: [[{ coord: [arrowRight[0], arrowRight[2]] }, { coord: [arrowRight[1], arrowRight[2]] }]] } });

const axisLine = { show: true, lineStyle: { color: '#000', width: 2 } };

const option = {
  animation: false,
  backgroundColor: '#ffffff',
  grid: { left: 117, right: 98, top: 52, bottom: 99, containLabel: false },
  xAxis: [{
    type: 'value', min: xRange[0], max: xRange[1], interval: xStep,
    axisLine,
    axisTick: { show: true, length: 12, lineStyle: { color: '#000', width: 2 } },
    minorTick: { show: true, splitNumber: 2, length: 7, lineStyle: { color: '#000', width: 2 } },
    splitLine: { show: true, lineStyle: { color: '#b4b4b4', width: 1.5, type: 'solid' } },
    minorSplitLine: { show: true, lineStyle: { color: '#c4c4c4', width: 1, type: [2, 3] } },
    axisLabel: { color: '#1a1a1a', fontFamily: FONT, fontSize: 26, margin: 18,
      formatter: v => v.toFixed(3) }
  }],
  yAxis: [{
    type: 'value', position: 'left', min: yLeftRange[0], max: yLeftRange[1], interval: yLeftStep,
    axisLine,
    axisTick: { show: true, length: 12, lineStyle: { color: '#000', width: 2 } },
    minorTick: { show: true, splitNumber: 2, length: 7, lineStyle: { color: '#000', width: 2 } },
    splitLine: { show: false },
    axisLabel: { color: '#1a1a1a', fontFamily: FONT, fontSize: 26, margin: 20,
      formatter: v => v.toFixed(2) }
  }, {
    type: 'value', position: 'right', min: yRightRange[0], max: yRightRange[1], interval: 25,
    axisLine,
    axisTick: { show: true, inside: true, length: 12, customValues: yRightLabels, lineStyle: { color: '#000', width: 2 } },
    splitLine: { show: false },
    axisLabel: { color: '#1a1a1a', fontFamily: FONT, fontSize: 26, margin: 16, customValues: yRightLabels,
      formatter: v => String(v) }
  }, {
    type: 'value', position: 'right', min: yRightRange[0], max: yRightRange[1], interval: 25,
    axisLine: { show: false },
    axisTick: { show: true, inside: true, length: 7, customValues: yRightMinor, lineStyle: { color: '#000', width: 2 } },
    splitLine: { show: false },
    axisLabel: { show: false }
  }],
  legend: [{
    data: ['triF', 'triR'], orient: 'vertical', left: 124, top: 15,
    backgroundColor: '#ffffff', borderColor: '#555', borderWidth: 1.3, borderRadius: 0,
    padding: [7.5, 3, 5, 33], itemGap: 7.5, itemWidth: 10, itemHeight: 9,
    textStyle: { fontFamily: FONT, fontSize: 30, color: '#1a1a1a', padding: [0, 0, 0, 32] },
    formatter: n => legendText[n], selectedMode: false, z: 20
  }, {
    data: ['sqF', 'sqR'], orient: 'vertical', left: 407, top: 591,
    backgroundColor: '#ffffff', borderColor: '#555', borderWidth: 1.3, borderRadius: 0,
    padding: [7.5, 5, 5.5, 37], itemGap: 7, itemWidth: 8, itemHeight: 8,
    textStyle: { fontFamily: FONT, fontSize: 33, color: '#1a1a1a', padding: [0, 0, 0, 38] },
    formatter: n => legendText[n], selectedMode: false, z: 20
  }],
  graphic: [
    { type: 'text', x: 514, y: 772, z: 30, style: { text: axisTitles.x, font: '32px ' + FONT, fill: '#1a1a1a', align: 'center', verticalAlign: 'middle' } },
    { type: 'text', x: 27, y: 372, rotation: Math.PI / 2, z: 30, style: { text: axisTitles.yl, font: '37px ' + FONT, fill: '#1a1a1a', align: 'center', verticalAlign: 'middle' } },
    { type: 'text', x: 989, y: 370, rotation: Math.PI / 2, z: 30, style: { text: axisTitles.yr, font: '32px ' + FONT, fill: '#1a1a1a', align: 'center', verticalAlign: 'middle' } }
  ],
  series
};

const chart = echarts.init(document.getElementById('c'), null, { renderer: 'canvas' });
chart.setOption(option);
</script>
</body></html>
